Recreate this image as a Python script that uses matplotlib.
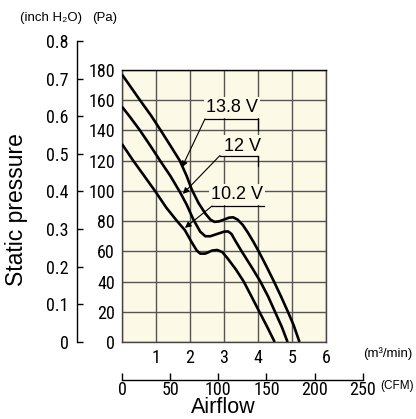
import numpy as np
import matplotlib.pyplot as plt
from matplotlib import font_manager

# fan P-Q curves, airflow in m3/min, static pressure in Pa
flow_138 = [0, 0.25, 0.53, 0.85, 1.14, 1.45, 1.7, 1.9, 2.05, 2.25, 2.45, 2.6, 2.72,
            2.85, 3.0, 3.15, 3.27, 3.4, 3.55, 3.7, 3.86, 4.02, 4.25, 4.47, 4.68, 4.88, 5.05, 5.22]
pres_138 = [177, 169, 160, 150, 140, 129, 120, 110, 101, 92, 85, 81, 79.5,
            79.8, 81, 82.3, 82.5, 81, 77.5, 72.5, 66.5, 60, 50, 40, 30, 20, 11, 0]

flow_12 = [0, 0.25, 0.53, 0.83, 1.12, 1.42, 1.71, 1.9, 2.1, 2.3, 2.45, 2.6, 2.8,
           3.0, 3.12, 3.22, 3.32, 3.52, 3.8, 4.07, 4.3, 4.5, 4.7, 4.87]
pres_12 = [155.7, 148.5, 140, 130, 120, 110, 99, 91, 81, 73, 70, 70, 71.5,
           73, 73.2, 71.5, 67.5, 60, 50, 40, 30, 20, 10, 0]

flow_102 = [0, 0.33, 0.65, 0.97, 1.3, 1.62, 1.85, 2.05, 2.2, 2.3, 2.45, 2.65, 2.8,
            2.95, 3.1, 3.35, 3.58, 3.8, 4.04, 4.27, 4.49]
pres_102 = [131, 120, 110, 100, 89, 80, 74, 66, 60.5, 58.5, 58.5, 60.5, 60.9,
            59.5, 55.5, 48, 40, 30.5, 20, 10, 0]

m3_ticks = [1, 2, 3, 4, 5, 6]
pa_ticks = [0, 20, 40, 60, 80, 100, 120, 140, 160, 180]
inch_ticks = [0, 0.1, 0.2, 0.3, 0.4, 0.5, 0.6, 0.7, 0.8]
cfm_ticks = [0, 50, 100, 150, 200, 250]

PA_PER_INCH = 249.089
CFM_PER_M3 = 35.3147

plt.rcParams['font.family'] = ['Liberation Sans', 'DejaVu Sans']

# tick numbers in the reference are a condensed face; use one if there is one
installed = font_manager.fontManager.ttflist
names = {f.name for f in installed}
tick_font = dict(family=['Liberation Sans', 'DejaVu Sans'], size=11.5)
for cand in ['Liberation Sans Narrow', 'Roboto Condensed', 'Open Sans Condensed',
             'DejaVu Sans Condensed', 'Noto Sans Condensed']:
    if cand in names:
        tick_font = dict(family=[cand, 'DejaVu Sans'], size=13)
        break
else:
    for f in installed:
        if f.stretch in ('condensed', 'semi-condensed') and 'Mono' not in f.name:
            tick_font = dict(family=[f.name, 'DejaVu Sans'], stretch=f.stretch, size=13)
            break

fig = plt.figure(figsize=(4.16, 4.19), dpi=100)

W, H = 416, 419
left, right, top, bottom = 122, 326, 70, 342
ax = fig.add_axes([left / W, 1 - bottom / H, (right - left) / W, (bottom - top) / H])
ax.set_facecolor('#fcf9e6')
ax.set_xlim(0, 6)
ax.set_ylim(0, 180)
ax.set_xticks(range(0, 7))
ax.set_xticklabels([''] + [str(t) for t in m3_ticks], fontdict=tick_font)
ax.set_yticks(pa_ticks)
ax.set_yticklabels([str(t) for t in pa_ticks], fontdict=tick_font)
ax.tick_params(length=0)
ax.tick_params(axis='x', pad=5)
ax.tick_params(axis='y', pad=5)
ax.grid(True, color='#555555', linewidth=1.0)
ax.set_axisbelow(True)
for s in ax.spines.values():
    s.set_color('#444444')
    s.set_linewidth(1.0)
ax.spines['top'].set_color('black')

for fx, py in [(flow_138, pres_138), (flow_12, pres_12), (flow_102, pres_102)]:
    ax.plot(fx, py, color='black', linewidth=1.9, solid_capstyle='butt', zorder=3)

# voltage labels with leader arrows
labels = [
    ('13.8 V', 3.24, 155, 2.44, 4.0, 147.6, (1.76, 115.5), True),
    ('12 V', 3.53, 129.7, 2.88, 4.0, 123.4, (1.79, 98.0), True),
    ('10.2 V', 3.38, 97.5, 2.65, 4.18, 90.0, (1.85, 75.5), False),
]
for txt, tx, ty, ux0, ux1, uy, tip, bracket in labels:
    ax.text(tx, ty, txt, ha='center', va='center', fontsize=13, zorder=4,
            bbox=dict(facecolor='#fcf9e6', edgecolor='none', pad=1.5))
    ax.plot([ux0, ux1], [uy, uy], color='black', linewidth=0.9, zorder=5)
    if bracket:
        ax.plot([ux1, ux1], [uy, uy - 7], color='black', linewidth=0.9, zorder=5)
    ax.annotate('', xy=tip, xytext=(ux0, uy), zorder=5,
                arrowprops=dict(arrowstyle='-|>', color='black', lw=0.8,
                                mutation_scale=9, shrinkA=0, shrinkB=0))

# inch H2O axis on the far left
ph = (bottom - top) / H
ax_in = fig.add_axes([77 / W, 1 - bottom / H, 0.0005, ph * 0.8 * PA_PER_INCH / 180])
ax_in.set_ylim(0, 0.8)
ax_in.set_yticks(inch_ticks)
ax_in.set_yticklabels(['0'] + [f'{t:.1f}' for t in inch_ticks[1:]], fontdict=tick_font)
ax_in.set_xticks([])
ax_in.patch.set_visible(False)
for k in ['top', 'right', 'bottom']:
    ax_in.spines[k].set_visible(False)
ax_in.spines['left'].set_linewidth(1.0)
ax_in.tick_params(axis='y', direction='in', length=4, width=1.0, pad=6)

# CFM axis below
pw = (right - left) / W
ax_cfm = fig.add_axes([left / W, 1 - 380 / H, pw * (250 / CFM_PER_M3) / 6, 0.0005])
ax_cfm.set_xlim(0, 250)
ax_cfm.set_xticks(cfm_ticks)
ax_cfm.set_xticklabels([str(t) for t in cfm_ticks], fontdict=tick_font)
ax_cfm.set_yticks([])
ax_cfm.patch.set_visible(False)
for k in ['top', 'right', 'left']:
    ax_cfm.spines[k].set_visible(False)
ax_cfm.spines['bottom'].set_linewidth(1.0)
ax_cfm.tick_params(axis='x', direction='in', length=5, width=1.0, pad=0.5)

# unit and axis titles
fig.text(20 / W, 1 - 18 / H, '(inch H₂O)', fontsize=9.5, ha='left', va='center')
fig.text(92 / W, 1 - 18 / H, '(Pa)', fontsize=9.5, ha='left', va='center')
fig.text(363 / W, 1 - 354 / H, '(m³/min)', fontsize=9.5, ha='left', va='center')
fig.text(380 / W, 1 - 386 / H, '(CFM)', fontsize=8.5, ha='left', va='center')
fig.text(17 / W, 1 - 210 / H, 'Static pressure', fontsize=16.5, rotation=90,
         ha='center', va='center')
fig.text(223 / W, 1 - 413 / H, 'Airflow', fontsize=15.5, ha='center', va='baseline')

fig.savefig('out.png', dpi=100)
